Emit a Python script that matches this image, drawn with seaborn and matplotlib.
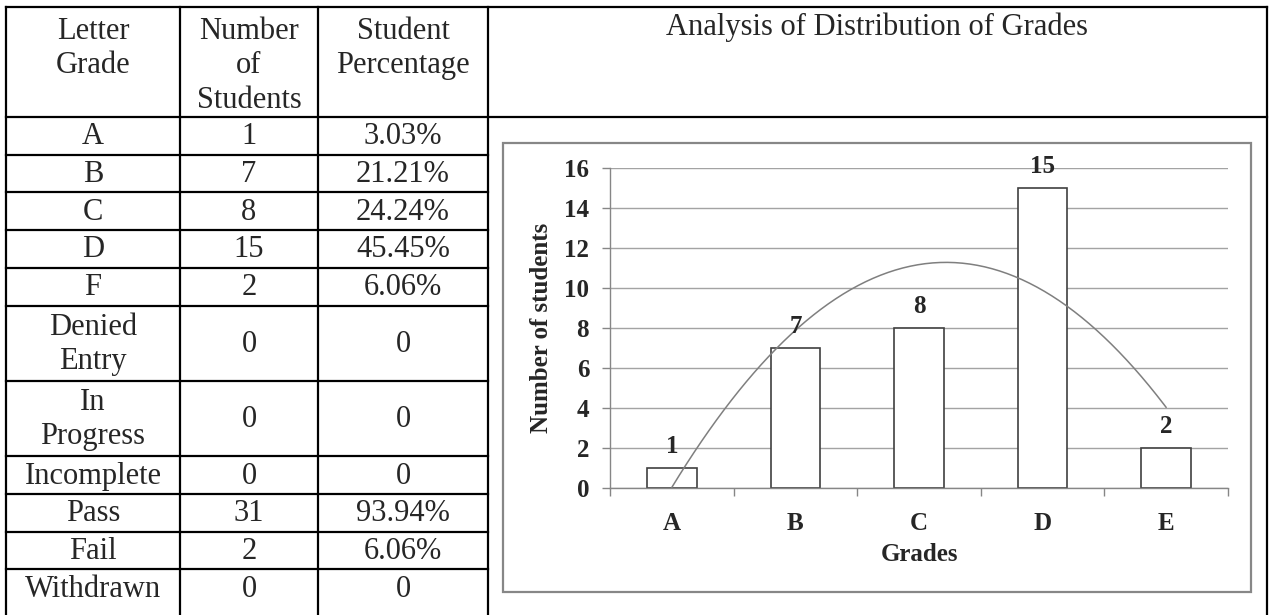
import numpy as np
import pandas as pd
import matplotlib
matplotlib.use('Agg')
import matplotlib.pyplot as plt
import seaborn as sns
from matplotlib.patches import Rectangle

# table data
headers = ['Letter\nGrade', 'Number\nof\nStudents', 'Student\nPercentage']
letter_grades = ['A', 'B', 'C', 'D', 'F', 'Denied\nEntry', 'In\nProgress',
                 'Incomplete', 'Pass', 'Fail', 'Withdrawn']
num_students = [1, 7, 8, 15, 2, 0, 0, 0, 31, 2, 0]
student_pct = ['3.03%', '21.21%', '24.24%', '45.45%', '6.06%', '0', '0', '0',
               '93.94%', '6.06%', '0']

# chart data
chart_title = 'Analysis of Distribution of Grades'
chart_grades = ['A', 'B', 'C', 'D', 'E']
chart_counts = [1, 7, 8, 15, 2]

sns.set_theme(style='white')
plt.rcParams['font.family'] = ['Liberation Serif', 'DejaVu Serif']

W, H = 1272, 615
fig = plt.figure(figsize=(W / 100, H / 100), dpi=100)

# ---- table drawn on a full-figure overlay in pixel units ----
tab = fig.add_axes([0, 0, 1, 1])
tab.set_xlim(0, W)
tab.set_ylim(H, 0)
tab.axis('off')

col_x = [6, 180, 318, 488, 1267]
top_y, head_y = 7, 117
row_h = 37.7
n_lines = [s.count('\n') + 1 for s in letter_grades]
row_edges = head_y + np.concatenate([[0], np.cumsum(n_lines)]) * row_h

line_kw = dict(color='black', lw=1.6, solid_capstyle='projecting')
for x in col_x:
    tab.plot([x, x], [top_y, H + 5], **line_kw)
tab.plot([col_x[0], col_x[-1]], [top_y, top_y], **line_kw)
tab.plot([col_x[0], col_x[-1]], [head_y, head_y], **line_kw)
for y in row_edges[1:-1]:
    tab.plot([col_x[0], col_x[3]], [y, y], **line_kw)

fs_tab = 22
lsp = 1.24
for j, h in enumerate(headers):
    cx = (col_x[j] + col_x[j + 1]) / 2
    tab.text(cx, top_y + 10, h, ha='center', va='top', fontsize=fs_tab,
             linespacing=lsp)
tab.text((col_x[3] + col_x[4]) / 2, top_y + 6, chart_title, ha='center',
         va='top', fontsize=fs_tab)

for i in range(len(letter_grades)):
    cy = (row_edges[i] + row_edges[i + 1]) / 2 + 1
    vals = [letter_grades[i], str(num_students[i]), student_pct[i]]
    for j, v in enumerate(vals):
        cx = (col_x[j] + col_x[j + 1]) / 2
        tab.text(cx, cy, v, ha='center', va='center', fontsize=fs_tab,
                 linespacing=lsp)

# ---- chart frame ----
fig.add_artist(Rectangle((503 / W, (H - 592) / H), 748 / W, 449 / H,
                         transform=fig.transFigure, fill=False,
                         edgecolor='#878787', lw=1.6))

# ---- bar chart ----
ax = fig.add_axes([610 / W, (H - 488) / H, 618 / W, 320 / H])
df = pd.DataFrame({'grade': chart_grades, 'count': chart_counts})
sns.barplot(data=df, x='grade', y='count', color='white', saturation=1,
            edgecolor='#404040', linewidth=1.2, width=0.4, ax=ax, zorder=2)

# second order polynomial trendline
xi = np.arange(len(chart_counts))
coef = np.polyfit(xi, chart_counts, 2)
xs = np.linspace(xi[0], xi[-1], 200)
ax.plot(xs, np.polyval(coef, xs), color='#7f7f7f', lw=1.1, zorder=3)

fs = 18
ax.bar_label(ax.containers[0], padding=7, fontsize=fs, fontweight='bold')

ax.set_xlim(-0.5, len(chart_grades) - 0.5)
ax.set_ylim(0, 16)
ax.set_yticks(range(0, 17, 2))
ax.yaxis.grid(True, color='#a3a3a3', lw=1)
ax.set_axisbelow(True)
for s in ['top', 'right']:
    ax.spines[s].set_visible(False)
for s in ['left', 'bottom']:
    ax.spines[s].set_color('#868686')
    ax.spines[s].set_linewidth(1)

ax.set_xticks(np.arange(-0.5, len(chart_grades), 1), minor=True)
ax.tick_params(axis='x', which='major', length=0, pad=17, labelsize=fs)
ax.tick_params(axis='x', which='minor', length=6, width=1, color='#868686',
               direction='out', bottom=True)
ax.tick_params(axis='y', length=6, width=1, color='#868686', pad=9,
               labelsize=fs, left=True, direction='out')
for lbl in ax.get_xticklabels() + ax.get_yticklabels():
    lbl.set_fontweight('bold')

ax.set_xlabel('Grades', fontsize=fs, fontweight='bold')
ax.set_ylabel('Number of students', fontsize=fs, fontweight='bold')
ax.xaxis.set_label_coords(0.5, -0.172)
ax.yaxis.set_label_coords(-0.092, 0.5)

fig.savefig('out.png', dpi=100)
